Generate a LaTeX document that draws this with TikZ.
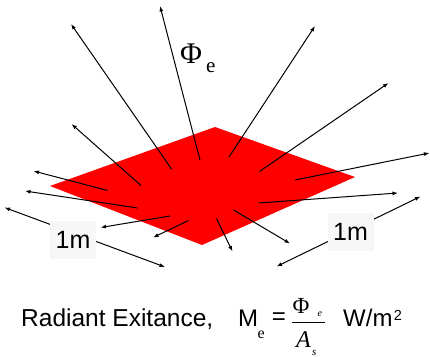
\documentclass[tikz,border=0pt]{standalone}
\usepackage{fontspec}
\setmainfont{Liberation Sans}
\newfontfamily\seriffont{Liberation Serif}
\usetikzlibrary{arrows.meta}
\definecolor{labelbg}{RGB}{247,247,247}
\tikzset{
  ray/.style={line width=1pt,-{Latex[length=5.5pt,width=4pt]}},
  dim/.style={line width=1pt,{Latex[length=5.5pt,width=4pt]}-{Latex[length=5.5pt,width=4pt]}},
  dimlabel/.style={fill=labelbg,minimum width=46pt,minimum height=38pt,inner sep=0pt,font=\fontsize{25}{30}\selectfont},
  txt/.style={inner sep=0pt,anchor=base west}
}
\begin{document}
\begin{tikzpicture}[x=1pt,y=-1pt]
\useasboundingbox (0,0) rectangle (430,356);
% surface
\fill[red] (215,127) coordinate (top) -- (355,177) coordinate (rt) -- (202,245) coordinate (bot) -- (50,186) coordinate (lt) -- cycle;
% ray start and end points
\coordinate (s1) at (200,160);   \coordinate (e1) at (160,6);
\coordinate (s2) at (171.5,169); \coordinate (e2) at (71,24);
\coordinate (s3) at (229,157);   \coordinate (e3) at (315,26);
\coordinate (s4) at (259.5,171.5); \coordinate (e4) at (388.5,83);
\coordinate (s5) at (295,180);   \coordinate (e5) at (429.5,153);
\coordinate (s6) at (141,185.5); \coordinate (e6) at (71.5,124);
\coordinate (s7) at (107.5,190.5); \coordinate (e7) at (33.5,171);
\coordinate (s8) at (137.5,208); \coordinate (e8) at (25,191);
\coordinate (s9) at (258.5,203); \coordinate (e9) at (398,193);
\coordinate (s10) at (170,216);  \coordinate (e10) at (100.5,227.5);
\coordinate (s11) at (188.5,220.5); \coordinate (e11) at (153,237.5);
\coordinate (s12) at (216.5,218.5); \coordinate (e12) at (232.5,251.5);
\coordinate (s13) at (233.5,210); \coordinate (e13) at (290,243.5);
\foreach \i in {1,...,13} \draw[ray] (s\i) -- (e\i);
% dimension lines
\coordinate (dl1) at (4.5,207.5); \coordinate (dl2) at (165,267);
\coordinate (dr1) at (276.5,266.5); \coordinate (dr2) at (420.5,196.5);
\draw[dim] (dl1) -- (dl2);
\draw[dim] (dr1) -- (dr2);
\node[dimlabel] (lm) at (73,240) {1m};
\node[dimlabel] (rm) at (350.5,231.5) {1m};
% flux label
\node[txt,font=\seriffont\fontsize{30}{36}\selectfont] (phi) at (180,63) {Φ};
\node[txt,font=\seriffont\fontsize{21}{25}\selectfont] (phie) at (206,72) {e};
% formula
\node[txt,font=\fontsize{24.5}{29}\selectfont] (rad) at (21,326) {Radiant Exitance,};
\node[txt,font=\fontsize{24}{29}\selectfont] (M) at (238,326) {M};
\node[txt,font=\seriffont\fontsize{16}{19}\selectfont] (Me) at (257.5,338) {e};
\node[font=\fontsize{24}{29}\selectfont,inner sep=0pt] (eq) at (279,319) {=};
\coordinate (b1) at (292,322); \coordinate (b2) at (324.5,322);
\draw[line width=0.8pt] (b1) -- (b2);
\node[txt,font=\seriffont\fontsize{23}{27}\selectfont] (nphi) at (292.5,313) {Φ};
\node[txt,font=\seriffont\itshape\fontsize{10}{12}\selectfont] (nphie) at (317.5,316) {e};
\node[txt,font=\seriffont\itshape\fontsize{24}{28}\selectfont] (dA) at (296,347) {A};
\node[txt,font=\seriffont\itshape\fontsize{11}{13}\selectfont] (dAs) at (312,355) {s};
\node[txt,font=\fontsize{24}{29}\selectfont] (unit) at (343,326) {W/m};
\node[txt,font=\fontsize{14.5}{17}\selectfont] (sq) at (unit.base east) [xshift=1pt,yshift=6pt] {2};
\end{tikzpicture}
\end{document}
